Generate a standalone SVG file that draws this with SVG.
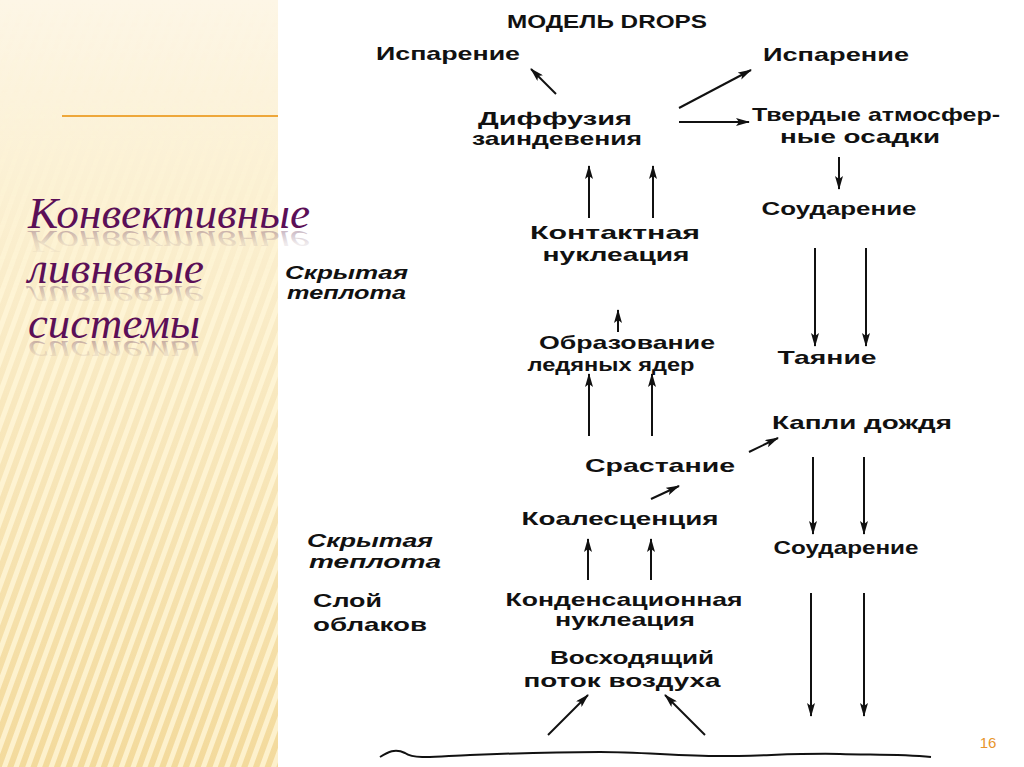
<svg xmlns="http://www.w3.org/2000/svg" width="1024" height="767" viewBox="0 0 1024 767">
<defs>
<style>
.t{font-family:"Liberation Sans","DejaVu Sans",sans-serif;font-weight:bold;font-size:19px;fill:#111;}
.i{font-family:"Liberation Sans","DejaVu Sans",sans-serif;font-weight:bold;font-style:italic;font-size:19px;fill:#111;}
.ttl{font-family:"Liberation Serif","DejaVu Serif",serif;font-style:italic;font-size:44px;fill:#5b0f57;}
.rfl{font-family:"Liberation Serif","DejaVu Serif",serif;font-style:italic;font-size:44px;fill:url(#rfg);}
.ln{stroke:#111;stroke-width:2;fill:none;}
</style>
<marker id="ah" viewBox="0 0 14 8" refX="13" refY="4" markerWidth="14" markerHeight="8" markerUnits="userSpaceOnUse" orient="auto">
<path d="M0,0 L14,4 L0,8 L3,4 Z" fill="#111"/>
</marker>
<linearGradient id="bg" x1="0" y1="0" x2="0" y2="1">
<stop offset="0" stop-color="#fdf6e6"/>
<stop offset="0.25" stop-color="#fbf0d2"/>
<stop offset="1" stop-color="#f3da9c"/>
</linearGradient>
<pattern id="str" width="11" height="40" patternUnits="userSpaceOnUse" patternTransform="rotate(20)">
<rect x="0" y="0" width="5" height="40" fill="#fff6d8" opacity="0.8"/>
</pattern>
<linearGradient id="fade" x1="0" y1="0" x2="0" y2="1">
<stop offset="0" stop-color="#fff" stop-opacity="0"/>
<stop offset="0.18" stop-color="#fff" stop-opacity="0.25"/>
<stop offset="0.4" stop-color="#fff" stop-opacity="1"/>
<stop offset="1" stop-color="#fff" stop-opacity="1"/>
</linearGradient>
<mask id="m1"><rect x="0" y="0" width="278" height="767" fill="url(#fade)"/></mask>
<linearGradient id="rfg" x1="0" y1="0" x2="0" y2="1">
<stop offset="0" stop-color="#8a6a7a" stop-opacity="0"/>
<stop offset="0.45" stop-color="#8a6a7a" stop-opacity="0.15"/>
<stop offset="1" stop-color="#7a4a6e" stop-opacity="0.55"/>
</linearGradient>
</defs>
<rect width="1024" height="767" fill="#fff"/>
<g id="panel">
<rect x="0" y="0" width="278" height="767" fill="url(#bg)"/>
<rect x="0" y="0" width="278" height="767" fill="url(#str)" mask="url(#m1)"/>
<line x1="62" y1="116" x2="278" y2="116" stroke="#eea73a" stroke-width="2"/>
</g>
<g id="title">
<text class="rfl" transform="translate(0,390.6) scale(1,-0.7)" x="28" y="228" textLength="282" lengthAdjust="spacingAndGlyphs">Конвективные</text>
<text class="rfl" transform="translate(0,484.1) scale(1,-0.7)" x="28" y="283" textLength="176" lengthAdjust="spacingAndGlyphs">ливневые</text>
<text class="rfl" transform="translate(0,577.6) scale(1,-0.7)" x="28" y="338" textLength="172" lengthAdjust="spacingAndGlyphs">системы</text>
<text class="ttl" x="28" y="228" textLength="282" lengthAdjust="spacingAndGlyphs">Конвективные</text>
<text class="ttl" x="28" y="283" textLength="176" lengthAdjust="spacingAndGlyphs">ливневые</text>
<text class="ttl" x="28" y="338" textLength="172" lengthAdjust="spacingAndGlyphs">системы</text>
</g>
<g id="n-title"><text class="t" x="607" y="28" text-anchor="middle" font-size="16" textLength="200" lengthAdjust="spacingAndGlyphs">МОДЕЛЬ DROPS</text></g>
<g id="n-evap1"><text class="t" x="448" y="60" text-anchor="middle" textLength="144" lengthAdjust="spacingAndGlyphs">Испарение</text></g>
<g id="n-evap2"><text class="t" x="836" y="61" text-anchor="middle" textLength="146" lengthAdjust="spacingAndGlyphs">Испарение</text></g>
<g id="n-diff"><text class="t" x="555" y="125" text-anchor="middle" textLength="154" lengthAdjust="spacingAndGlyphs">Диффузия</text><text class="t" x="557" y="145" text-anchor="middle" textLength="170" lengthAdjust="spacingAndGlyphs">заиндевения</text></g>
<g id="n-solid"><text class="t" x="876" y="121" text-anchor="middle" textLength="248" lengthAdjust="spacingAndGlyphs">Твердые атмосфер-</text><text class="t" x="860" y="143" text-anchor="middle" textLength="160" lengthAdjust="spacingAndGlyphs">ные осадки</text></g>
<g id="n-coll1"><text class="t" x="839" y="215" text-anchor="middle" textLength="155" lengthAdjust="spacingAndGlyphs">Соударение</text></g>
<g id="n-contact"><text class="t" x="615" y="239" text-anchor="middle" textLength="170" lengthAdjust="spacingAndGlyphs">Контактная</text><text class="t" x="616" y="261" text-anchor="middle" textLength="147" lengthAdjust="spacingAndGlyphs">нуклеация</text></g>
<g id="n-heat1"><text class="i" x="285" y="279" textLength="123" lengthAdjust="spacingAndGlyphs">Скрытая</text><text class="i" x="287" y="299" textLength="119" lengthAdjust="spacingAndGlyphs">теплота</text></g>
<g id="n-ice"><text class="t" x="627" y="349" text-anchor="middle" textLength="176" lengthAdjust="spacingAndGlyphs">Образование</text><text class="t" x="611" y="371" text-anchor="middle" textLength="167" lengthAdjust="spacingAndGlyphs">ледяных ядер</text></g>
<g id="n-melt"><text class="t" x="827" y="364" text-anchor="middle" textLength="99" lengthAdjust="spacingAndGlyphs">Таяние</text></g>
<g id="n-drops"><text class="t" x="862" y="429" text-anchor="middle" textLength="180" lengthAdjust="spacingAndGlyphs">Капли дождя</text></g>
<g id="n-accr"><text class="t" x="660" y="472" text-anchor="middle" textLength="150" lengthAdjust="spacingAndGlyphs">Срастание</text></g>
<g id="n-coal"><text class="t" x="620" y="525" text-anchor="middle" textLength="197" lengthAdjust="spacingAndGlyphs">Коалесценция</text></g>
<g id="n-coll2"><text class="t" x="846" y="554" text-anchor="middle" textLength="145" lengthAdjust="spacingAndGlyphs">Соударение</text></g>
<g id="n-heat2"><text class="i" x="307" y="547" textLength="126" lengthAdjust="spacingAndGlyphs">Скрытая</text><text class="i" x="309" y="568" textLength="132" lengthAdjust="spacingAndGlyphs">теплота</text></g>
<g id="n-cloud"><text class="t" x="313" y="607" textLength="69" lengthAdjust="spacingAndGlyphs">Слой</text><text class="t" x="313" y="631" textLength="114" lengthAdjust="spacingAndGlyphs">облаков</text></g>
<g id="n-cond"><text class="t" x="624" y="606" text-anchor="middle" textLength="237" lengthAdjust="spacingAndGlyphs">Конденсационная</text><text class="t" x="625" y="626" text-anchor="middle" textLength="140" lengthAdjust="spacingAndGlyphs">нуклеация</text></g>
<g id="n-updraft"><text class="t" x="632" y="664" text-anchor="middle" textLength="164" lengthAdjust="spacingAndGlyphs">Восходящий</text><text class="t" x="622" y="687" text-anchor="middle" textLength="197" lengthAdjust="spacingAndGlyphs">поток воздуха</text></g>
<g id="page"><text x="988" y="748" text-anchor="middle" font-family="Liberation Sans, sans-serif" font-size="15" fill="#e8952c">16</text></g>
<g id="connectors" class="ln" marker-end="url(#ah)">
<line x1="556" y1="94" x2="531" y2="69"/>
<line x1="679" y1="108" x2="751" y2="70"/>
<line x1="679" y1="122" x2="749" y2="122"/>
<line x1="839" y1="157" x2="839" y2="189"/>
<line x1="589" y1="218" x2="589" y2="166"/>
<line x1="653" y1="218" x2="653" y2="166"/>
<line x1="815" y1="248" x2="815" y2="346"/>
<line x1="866" y1="248" x2="866" y2="346"/>
<line x1="618" y1="332" x2="618" y2="310"/>
<line x1="589" y1="436" x2="589" y2="374"/>
<line x1="652" y1="436" x2="652" y2="374"/>
<line x1="749" y1="452" x2="778" y2="438"/>
<line x1="651" y1="499" x2="679" y2="486"/>
<line x1="813" y1="457" x2="813" y2="534"/>
<line x1="864" y1="457" x2="864" y2="534"/>
<line x1="588" y1="580" x2="588" y2="539"/>
<line x1="651" y1="580" x2="651" y2="539"/>
<line x1="811" y1="593" x2="811" y2="716"/>
<line x1="864" y1="593" x2="864" y2="716"/>
<line x1="548" y1="735" x2="588" y2="695"/>
<line x1="705" y1="735" x2="665" y2="695"/>
</g>
<g id="ground">
<path class="ln" d="M380,757 C388,752 395,748 405,753 C415,760 440,756 470,755 C520,753 560,752 600,752 C640,752 680,756 720,756 C760,756 800,753 840,754 C870,755 900,754 931,757"/>
</g>
</svg>
